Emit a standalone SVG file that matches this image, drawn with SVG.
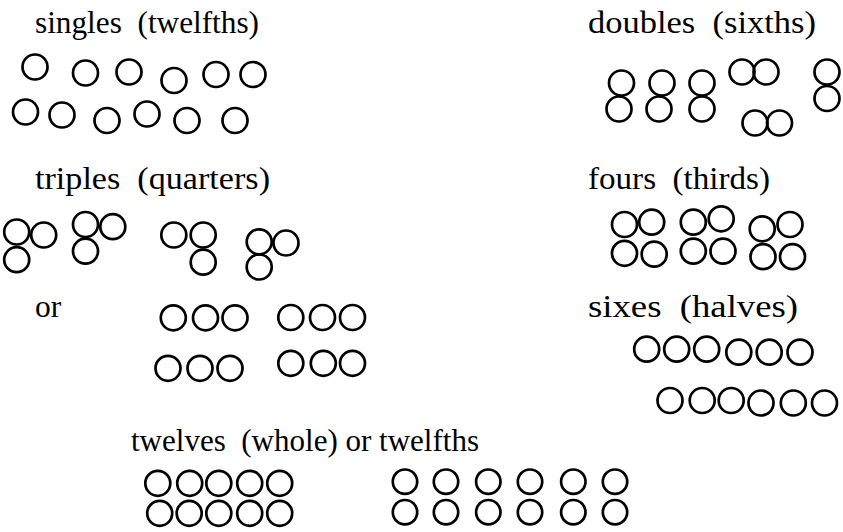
<svg xmlns="http://www.w3.org/2000/svg" width="843" height="532" viewBox="0 0 843 532">
<style>
text{font-family:"Liberation Serif","Times New Roman",serif;font-size:31.5px;fill:#000;white-space:pre}
circle{fill:none;stroke:#000;stroke-width:2.7}
</style>
<rect width="843" height="532" fill="#fff"/>
<g id="labels">
<text x="35" y="33" xml:space="preserve" textLength="224" lengthAdjust="spacingAndGlyphs">singles  (twelfths)</text>
<text x="588" y="33" xml:space="preserve" textLength="228" lengthAdjust="spacingAndGlyphs">doubles  (sixths)</text>
<text x="35" y="189" xml:space="preserve" textLength="235" lengthAdjust="spacingAndGlyphs">triples  (quarters)</text>
<text x="588" y="189" xml:space="preserve" textLength="182" lengthAdjust="spacingAndGlyphs">fours  (thirds)</text>
<text x="35" y="317">or</text>
<text x="588" y="317" xml:space="preserve" textLength="210" lengthAdjust="spacingAndGlyphs">sixes  (halves)</text>
<text x="131" y="451" xml:space="preserve" textLength="348" lengthAdjust="spacingAndGlyphs">twelves  (whole) or twelfths</text>
</g>
<g id="singles">
<circle cx="35" cy="67" r="12.5"/><circle cx="85.5" cy="73" r="12.5"/><circle cx="129" cy="72" r="12.5"/>
<circle cx="174" cy="80.5" r="12.5"/><circle cx="216" cy="74.5" r="12.5"/><circle cx="253" cy="74.5" r="12.5"/>
<circle cx="25.5" cy="112" r="12.5"/><circle cx="62" cy="115" r="12.5"/><circle cx="107" cy="120.5" r="12.5"/>
<circle cx="147" cy="114" r="12.5"/><circle cx="187" cy="120.5" r="12.5"/><circle cx="235" cy="120.5" r="12.5"/>
</g>
<g id="doubles">
<circle cx="621.5" cy="83" r="12.5"/><circle cx="619" cy="109" r="12.5"/>
<circle cx="662" cy="83" r="12.5"/><circle cx="659" cy="109" r="12.5"/>
<circle cx="702" cy="83" r="12.5"/><circle cx="702" cy="109" r="12.5"/>
<circle cx="742" cy="72" r="12.5"/><circle cx="766" cy="72" r="12.5"/>
<circle cx="755" cy="123" r="12.5"/><circle cx="779.5" cy="123" r="12.5"/>
<circle cx="827" cy="72" r="12.5"/><circle cx="827" cy="98.5" r="12.5"/>
</g>
<g id="triples">
<circle cx="16.7" cy="232" r="12.5"/><circle cx="43.7" cy="235" r="12.5"/><circle cx="16.7" cy="259.7" r="12.5"/>
<circle cx="85.5" cy="224.5" r="12.5"/><circle cx="112.8" cy="226.7" r="12.5"/><circle cx="85.5" cy="251.2" r="12.5"/>
<circle cx="173.8" cy="235" r="12.5"/><circle cx="203.2" cy="235" r="12.5"/><circle cx="203.2" cy="262.2" r="12.5"/>
<circle cx="259.2" cy="241.8" r="12.5"/><circle cx="286" cy="243" r="12.5"/><circle cx="259.2" cy="267" r="12.5"/>
</g>
<g id="fours">
<circle cx="624.5" cy="224.5" r="12.5"/><circle cx="651.7" cy="222.2" r="12.5"/><circle cx="624.5" cy="253.3" r="12.5"/><circle cx="654.2" cy="254.2" r="12.5"/>
<circle cx="693.3" cy="222.2" r="12.5"/><circle cx="721.2" cy="218.8" r="12.5"/><circle cx="693.3" cy="251.2" r="12.5"/><circle cx="723" cy="251.2" r="12.5"/>
<circle cx="762.2" cy="228.8" r="12.5"/><circle cx="790" cy="224.5" r="12.5"/><circle cx="763" cy="256.7" r="12.5"/><circle cx="792.5" cy="256.7" r="12.5"/>
</g>
<g id="triples-rows">
<circle cx="173.3" cy="317.8" r="12.5"/><circle cx="205.5" cy="317.8" r="12.5"/><circle cx="235" cy="317.8" r="12.5"/>
<circle cx="290.8" cy="317.5" r="12.5"/><circle cx="322.5" cy="317.5" r="12.5"/><circle cx="352.5" cy="317.5" r="12.5"/>
<circle cx="168" cy="368.3" r="12.5"/><circle cx="200" cy="368.3" r="12.5"/><circle cx="230" cy="368.3" r="12.5"/>
<circle cx="290.8" cy="363.3" r="12.5"/><circle cx="323.3" cy="363.3" r="12.5"/><circle cx="352.5" cy="363.3" r="12.5"/>
</g>
<g id="sixes">
<circle cx="646.7" cy="349.2" r="12.5"/><circle cx="676.7" cy="349.2" r="12.5"/><circle cx="706.7" cy="349.2" r="12.5"/>
<circle cx="738.8" cy="352.2" r="12.5"/><circle cx="769.2" cy="352.2" r="12.5"/><circle cx="800" cy="352.2" r="12.5"/>
<circle cx="670" cy="400.5" r="12.5"/><circle cx="702.2" cy="400.5" r="12.5"/><circle cx="731.2" cy="400.5" r="12.5"/>
<circle cx="761" cy="403" r="12.5"/><circle cx="793.3" cy="403" r="12.5"/><circle cx="824.5" cy="403" r="12.5"/>
</g>
<g id="twelves">
<circle cx="157.8" cy="483.3" r="12.5"/><circle cx="189.7" cy="483.3" r="12.5"/><circle cx="218.8" cy="483.3" r="12.5"/><circle cx="249.7" cy="483.3" r="12.5"/><circle cx="279.7" cy="483.3" r="12.5"/>
<circle cx="159.7" cy="513.3" r="12.5"/><circle cx="189.2" cy="513.3" r="12.5"/><circle cx="218.8" cy="513.3" r="12.5"/><circle cx="249.7" cy="513.3" r="12.5"/><circle cx="279.7" cy="513.3" r="12.5"/>
</g>
<g id="twelfths">
<circle cx="405" cy="481.7" r="12.2"/><circle cx="446" cy="481.7" r="12.2"/><circle cx="488.3" cy="481.7" r="12.2"/><circle cx="530" cy="481.7" r="12.2"/><circle cx="573.3" cy="481.7" r="12.2"/><circle cx="615" cy="481.7" r="12.2"/>
<circle cx="405" cy="512.2" r="12.2"/><circle cx="446" cy="512.2" r="12.2"/><circle cx="488.3" cy="512.2" r="12.2"/><circle cx="530" cy="512.2" r="12.2"/><circle cx="573.3" cy="512.2" r="12.2"/><circle cx="615" cy="512.2" r="12.2"/>
</g>
</svg>
